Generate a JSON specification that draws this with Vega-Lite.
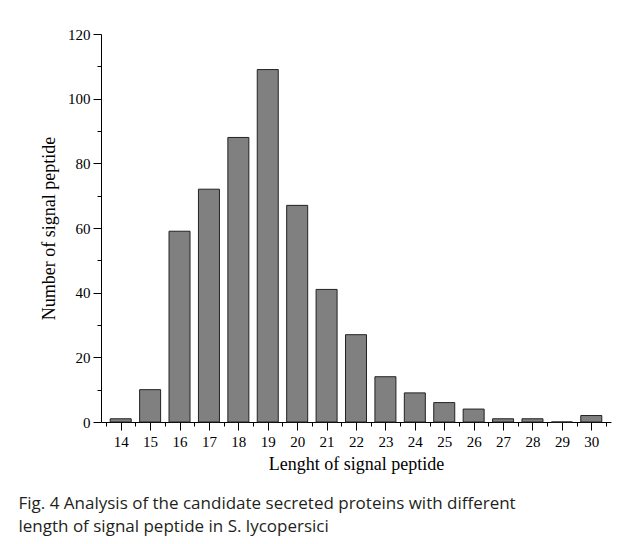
{
  "$schema": "https://vega.github.io/schema/vega-lite/v6.json",
  "width": 510,
  "height": 388,
  "autosize": {"type": "none"},
  "padding": {"left": 101, "top": 34, "right": 23, "bottom": 122},
  "background": "white",
  "data": {
    "values": [
      {"length": 14, "count": 1},
      {"length": 15, "count": 10},
      {"length": 16, "count": 59},
      {"length": 17, "count": 72},
      {"length": 18, "count": 88},
      {"length": 19, "count": 109},
      {"length": 20, "count": 67},
      {"length": 21, "count": 41},
      {"length": 22, "count": 27},
      {"length": 23, "count": 14},
      {"length": 24, "count": 9},
      {"length": 25, "count": 6},
      {"length": 26, "count": 4},
      {"length": 27, "count": 1},
      {"length": 28, "count": 1},
      {"length": 29, "count": 0},
      {"length": 30, "count": 2}
    ]
  },
  "mark": {"type": "bar", "fill": "#808080", "stroke": "#222222", "strokeWidth": 1, "size": 21},
  "encoding": {
    "x": {
      "field": "length",
      "type": "quantitative",
      "scale": {"domain": [13.5, 30.5], "nice": false, "zero": false},
      "axis": {
        "title": "Lenght  of signal peptide",
        "values": [13.5, 14, 14.5, 15, 15.5, 16, 16.5, 17, 17.5, 18, 18.5, 19, 19.5, 20, 20.5, 21, 21.5, 22, 22.5, 23, 23.5, 24, 24.5, 25, 25.5, 26, 26.5, 27, 27.5, 28, 28.5, 29, 29.5, 30, 30.5],
        "labelExpr": "datum.value % 1 === 0 ? format(datum.value, 'd') : ''",
        "tickSize": {"condition": {"test": "datum.value % 1 === 0", "value": 8}, "value": 4},
        "labelPadding": 4,
        "titlePadding": 6
      }
    },
    "y": {
      "field": "count",
      "type": "quantitative",
      "scale": {"domain": [0, 120], "nice": false},
      "axis": {
        "title": "Number  of signal peptide",
        "values": [0, 10, 20, 30, 40, 50, 60, 70, 80, 90, 100, 110, 120],
        "labelExpr": "datum.value % 20 === 0 ? format(datum.value, 'd') : ''",
        "tickSize": {"condition": {"test": "datum.value % 20 === 0", "value": 8}, "value": 4},
        "labelPadding": 3,
        "titlePadding": 9
      }
    }
  },
  "title": {
    "text": ["Fig. 4 Analysis of the candidate secreted proteins with different", "length of signal peptide in S. lycopersici"],
    "orient": "bottom",
    "anchor": "start",
    "frame": "bounds",
    "offset": 23,
    "dx": -22,
    "font": "Open Sans",
    "fontSize": 17,
    "fontWeight": "normal",
    "color": "#231f20",
    "lineHeight": 23
  },
  "config": {
    "view": {"stroke": null},
    "axis": {
      "grid": false,
      "domainColor": "black",
      "domainWidth": 1,
      "tickColor": "black",
      "tickWidth": 1,
      "labelColor": "black",
      "titleColor": "black",
      "labelFont": "Liberation Serif",
      "titleFont": "Liberation Serif",
      "labelFontSize": 15,
      "titleFontSize": 18,
      "titleFontWeight": "normal",
      "labelOverlap": false
    }
  }
}
